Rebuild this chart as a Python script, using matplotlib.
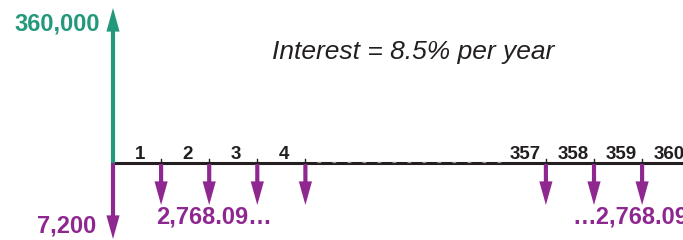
import matplotlib
matplotlib.use("Agg")
import matplotlib.pyplot as plt
from matplotlib.patches import FancyArrowPatch

# ---- data ----
loan_amount = "360,000"
upfront_cost = "7,200"
payment_label_left = "2,768.09\u2026"
payment_label_right = "\u20262,768.09"
interest_text = "Interest = 8.5% per year"
shown_periods = [1, 2, 3, 4, 357, 358, 359, 360]
period_labels = ["1", "2", "3", "4", "357", "358", "359", "360"]
payment_periods = [1, 2, 3, 4, 357, 358, 359]

# ---- style ----
GREEN = "#23987A"
PURPLE = "#8E2890"
BLACK = "#231F20"
FONT = "Liberation Sans"
BREAK = 348          # periods skipped by the axis break
UNIT = 48.1          # pixels per period
X0 = 113             # pixel x of period 0
Y0 = 163             # pixel y of time line


def slot(p):
    return p if p <= 4 else p - BREAK


def px(x):
    return (x - X0) / UNIT


def py(y):
    return Y0 - y


fig = plt.figure(figsize=(6.83, 2.40), dpi=100)
ax = fig.add_axes([0, 0, 1, 1])
ax.set_xlim(px(0), px(683))
ax.set_ylim(py(240), py(0))
ax.axis("off")

# time line
ax.plot([0, px(683)], [0, 0], color=BLACK, lw=2.2, solid_capstyle="butt", zorder=2)
# faint gaps on the broken middle section
ax.plot([slot(4) + 0.25, px(505)], [0.7, 0.7], color="#9a9a9a", lw=0.9,
        ls=(0, (3, 9)), zorder=2.5)

# tick marks at payment points
for p in payment_periods:
    ax.plot([slot(p), slot(p)], [-4, 4], color=BLACK, lw=1.0, zorder=3)

# period labels (centered in the period)
for p, lab in zip(shown_periods, period_labels):
    ax.text(slot(p) - 0.44, 8.5, lab, ha="center", va="center", fontsize=13.5,
            fontweight="bold", color=BLACK, family=FONT)


def arrow(x, y1, y2, color):
    a = FancyArrowPatch((x, y1), (x, y2),
                        arrowstyle="simple,head_length=17,head_width=9.5,tail_width=3",
                        mutation_scale=1, lw=0, color=color,
                        shrinkA=0, shrinkB=0, zorder=4)
    ax.add_patch(a)


# loan received at t=0
arrow(0, 0, py(8), GREEN)
# upfront cost at t=0
arrow(0, 0, py(239), PURPLE)
# monthly payments
for p in payment_periods:
    arrow(slot(p), -1, py(205), PURPLE)

ax.text(px(100), py(24), loan_amount, ha="right", va="center", fontsize=17,
        fontweight="bold", color=GREEN, family=FONT)
ax.text(px(96), py(226), upfront_cost, ha="right", va="center", fontsize=17,
        fontweight="bold", color=PURPLE, family=FONT)
ax.text(px(156), py(217), payment_label_left, ha="left", va="center", fontsize=17,
        fontweight="bold", color=PURPLE, family=FONT)
ax.text(px(572), py(217), payment_label_right, ha="left", va="center", fontsize=17,
        fontweight="bold", color=PURPLE, family=FONT)
ax.text(px(413), py(52), interest_text, ha="center", va="center", fontsize=19,
        style="italic", color=BLACK, family=FONT)

fig.savefig("out.png", dpi=100)
